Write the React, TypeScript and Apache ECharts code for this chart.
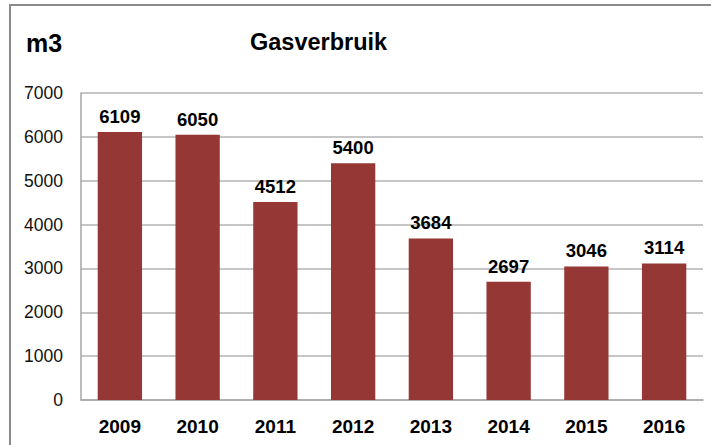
import React, { useEffect, useRef } from "react";
import * as echarts from "echarts";

const years = ["2009", "2010", "2011", "2012", "2013", "2014", "2015", "2016"];
const usage = [6109, 6050, 4512, 5400, 3684, 2697, 3046, 3114];
const yMin = 0;
const yMax = 7000;
const yStep = 1000;

export default function App() {
  const ref = useRef<HTMLDivElement>(null);
  useEffect(() => {
    document.body.style.margin = "0";
    const chart = echarts.init(ref.current!, null, { renderer: "svg" });
    const font = "'Liberation Sans', Arial, sans-serif";
    chart.setOption({
      animation: false,
      backgroundColor: "#ffffff",
      textStyle: { fontFamily: font },
      graphic: [
        {
          type: "rect",
          shape: { x: 10, y: 5, width: 720, height: 460 },
          style: { fill: "none", stroke: "#8a8a8a", lineWidth: 2 },
          silent: true,
        },
        {
          type: "text",
          left: 26,
          top: 30,
          style: { text: "m3", font: `bold 25px ${font}`, fill: "#000" },
        },
        {
          type: "text",
          left: 250,
          top: 30,
          style: { text: "Gasverbruik", font: `bold 23.5px ${font}`, fill: "#000" },
        },
      ],
      grid: { left: 81, top: 93, right: 8, bottom: 45, containLabel: false },
      xAxis: {
        type: "category",
        data: years,
        axisLine: { show: true, lineStyle: { color: "#a6a6a6", width: 1.5 } },
        axisTick: { show: false },
        axisLabel: {
          margin: 17,
          color: "#000",
          fontWeight: "bold",
          fontSize: 19,
          fontFamily: font,
        },
      },
      yAxis: {
        type: "value",
        min: yMin,
        max: yMax,
        interval: yStep,
        axisLine: { show: true, lineStyle: { color: "#a6a6a6", width: 1.5 } },
        axisTick: { show: false },
        axisLabel: {
          margin: 18,
          color: "#111",
          fontSize: 17.5,
          fontFamily: font,
          formatter: (v: number) => String(v),
        },
        splitLine: { show: true, lineStyle: { color: "#b3b3b3", width: 1.5 } },
      },
      series: [
        {
          type: "bar",
          data: usage,
          barWidth: "57%",
          itemStyle: { color: "#953735" },
          label: {
            show: true,
            position: "top",
            distance: 6,
            color: "#000",
            fontWeight: "bold",
            fontSize: 18.5,
            fontFamily: font,
          },
        },
      ],
    });
    return () => chart.dispose();
  }, []);
  return <div ref={ref} style={{ width: 711, height: 445 }} />;
}
